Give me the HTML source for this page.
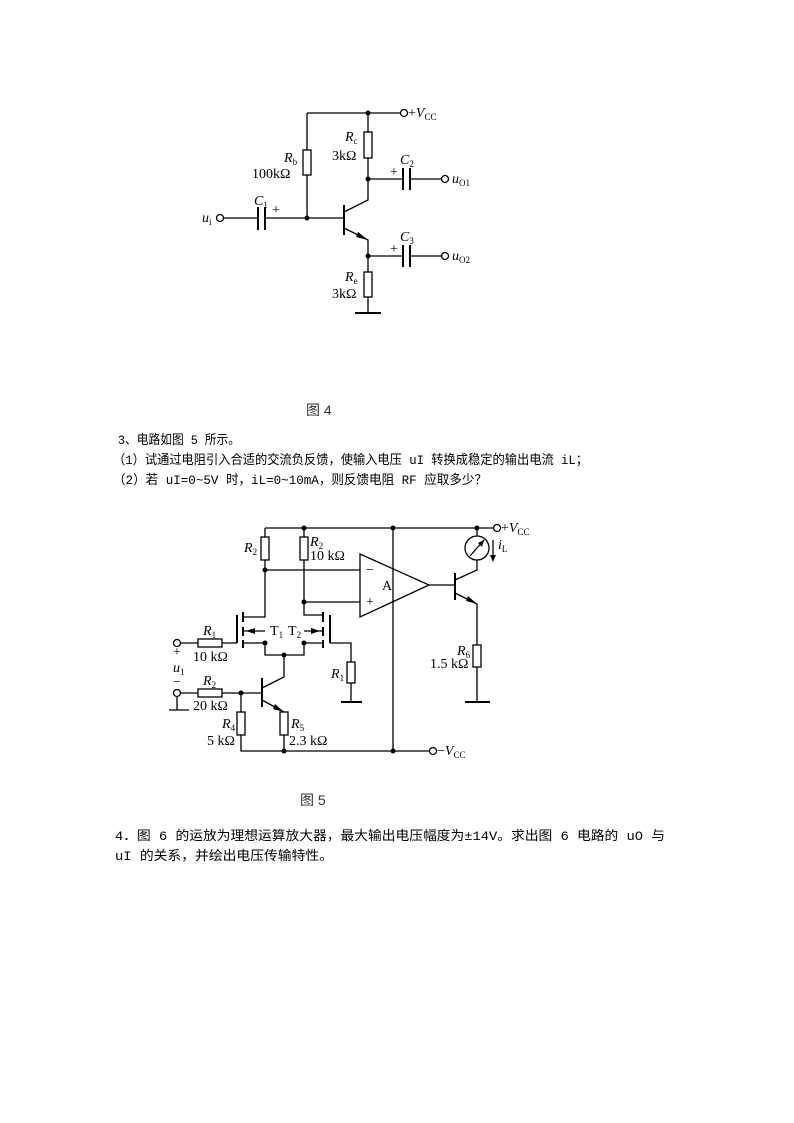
<!DOCTYPE html>
<html><head><meta charset="utf-8"><style>
html,body{margin:0;padding:0;background:#fff}
svg{display:block}
.t{font-family:"Liberation Serif","Noto Serif CJK SC",serif;font-size:14px}
.c{font-family:"Liberation Sans","Noto Sans CJK SC",sans-serif;font-size:14px}
.m{font-family:"Liberation Mono","Noto Sans CJK SC",monospace;font-size:13px}
</style></head><body>
<svg width="794" height="1123" viewBox="0 0 794 1123" xmlns="http://www.w3.org/2000/svg">
<g stroke="#000" stroke-width="1.3" fill="none">
<path d="M307,113 H400"/><circle cx="404" cy="113" r="3.5"/>
<path d="M307,113 V150 M307,175 V218"/><rect x="303" y="150" width="8" height="25"/>
<path d="M368,113 V132 M368,158 V200 L344,212"/><rect x="364" y="132" width="8" height="26"/>
<path d="M224,218 H258 M265,218 H344"/><path d="M258,207 V230 M265,207 V230" stroke-width="2"/>
<circle cx="220" cy="218" r="3.5"/>
<path d="M344,205 V235" stroke-width="2"/>
<path d="M344,228 L368,240 V272 M368,297 V313"/><rect x="364" y="272" width="8" height="25"/>
<path d="M355,313 H381" stroke-width="2"/>
<path d="M368,179 H403 M410,179 H441"/><path d="M403,168 V190 M410,168 V190" stroke-width="2"/><circle cx="445" cy="179" r="3.5"/>
<path d="M368,256 H403 M410,256 H441"/><path d="M403,245 V267 M410,245 V267" stroke-width="2"/><circle cx="445" cy="256" r="3.5"/>
</g>
<g fill="#000">
<circle cx="368" cy="113" r="2.5"/><circle cx="307" cy="218" r="2.5"/><circle cx="368" cy="179" r="2.5"/><circle cx="368" cy="256" r="2.5"/>
<path d="M368,240 L358,232 L356,237 Z"/>
</g>
<g class="t">
<text x="408" y="117">+<tspan font-style="italic">V</tspan><tspan font-size="9" dy="3">CC</tspan></text>
<text x="284" y="162" font-style="italic">R<tspan font-size="9" dy="3" font-style="normal">b</tspan></text>
<text x="252" y="178">100kΩ</text>
<text x="345" y="141" font-style="italic">R<tspan font-size="9" dy="3" font-style="normal">c</tspan></text>
<text x="332" y="160">3kΩ</text>
<text x="345" y="281" font-style="italic">R<tspan font-size="9" dy="3" font-style="normal">e</tspan></text>
<text x="332" y="298">3kΩ</text>
<text x="254" y="205" font-style="italic">C<tspan font-size="9" dy="3" font-style="normal">1</tspan></text><text x="272" y="214">+</text>
<text x="400" y="164" font-style="italic">C<tspan font-size="9" dy="3" font-style="normal">2</tspan></text><text x="390" y="176">+</text>
<text x="400" y="241" font-style="italic">C<tspan font-size="9" dy="3" font-style="normal">3</tspan></text><text x="390" y="253">+</text>
<text x="452" y="183" font-style="italic">u<tspan font-size="9" dy="3" font-style="normal">O1</tspan></text>
<text x="452" y="260" font-style="italic">u<tspan font-size="9" dy="3" font-style="normal">O2</tspan></text>
<text x="202" y="222" font-style="italic">u<tspan font-size="9" dy="3" font-style="normal">i</tspan></text>
</g>
<text class="c" x="306" y="415" fill="#333">图 4</text>
<text class="m" x="118" y="444" textLength="122" lengthAdjust="spacingAndGlyphs">3、电路如图 5 所示。</text>
<text class="m" x="113" y="464" textLength="475" lengthAdjust="spacingAndGlyphs">（1）试通过电阻引入合适的交流负反馈，使输入电压 uI 转换成稳定的输出电流 iL；</text>
<text class="m" x="113" y="484" textLength="374" lengthAdjust="spacingAndGlyphs">（2）若 uI=0~5V 时，iL=0~10mA，则反馈电阻 RF 应取多少？</text>

<g stroke="#000" stroke-width="1.3" fill="none">
<path d="M265,528 H493"/><circle cx="497" cy="528" r="3.5"/>
<path d="M265,528 V537 M265,560 V617 H243"/><rect x="261" y="537" width="8" height="23"/>
<path d="M304,528 V537 M304,560 V615 H323"/><rect x="300" y="537" width="8" height="23"/>
<path d="M265,570 H360 M304,602 H360"/>
<path d="M360,554 L429,585 L360,617 Z"/>
<path d="M393,528 V751"/>
<path d="M237,615 V643" stroke-width="2"/>
<path d="M243,612 V622 M243,627 V636 M243,640 V648" stroke-width="2"/>
<path d="M243,631 H265 M243,643 H265 V655 H304 V643 H323 M304,631 H323"/>
<path d="M323,612 V622 M323,627 V636 M323,640 V648" stroke-width="2"/>
<path d="M330,615 V643" stroke-width="2"/>
<path d="M237,643 H222 M198,643 H181"/><rect x="198" y="639" width="24" height="8"/><circle cx="177" cy="643" r="3.5"/>
<path d="M330,643 H351 V662 M351,683 V702"/><rect x="347" y="662" width="8" height="21"/>
<path d="M341,702 H362" stroke-width="2"/>
<path d="M284,655 V677 L262,688"/>
<path d="M262,678 V707" stroke-width="2"/>
<path d="M181,693 H198 M222,693 H262"/><rect x="198" y="689" width="24" height="8"/><circle cx="177" cy="693" r="3.5"/>
<path d="M177,697 V710 M169,710 H189"/>
<path d="M262,700 L284,712 V712 M284,735 V751"/><rect x="280" y="712" width="8" height="23"/>
<path d="M241,693 V712 M241,735 V751 H429"/><rect x="237" y="712" width="8" height="23"/><circle cx="433" cy="751" r="3.5"/>
<path d="M429,585 H455"/>
<path d="M455,573 V600" stroke-width="2"/>
<path d="M455,580 L477,570 V560 M477,536 V528"/>
<circle cx="477" cy="548" r="12"/><path d="M470,556 L484,540"/>
<path d="M455,593 L477,604 V645 M477,667 V702"/><rect x="473" y="645" width="8" height="22"/>
<path d="M465,702 H490" stroke-width="2"/>
<path d="M493,540 V558"/>
</g>
<g fill="#000">
<circle cx="304" cy="528" r="2.5"/><circle cx="393" cy="528" r="2.5"/><circle cx="477" cy="528" r="2.5"/>
<circle cx="265" cy="570" r="2.5"/><circle cx="304" cy="602" r="2.5"/>
<circle cx="265" cy="643" r="2.5"/><circle cx="304" cy="643" r="2.5"/><circle cx="284" cy="655" r="2.5"/>
<circle cx="241" cy="693" r="2.5"/><circle cx="284" cy="751" r="2.5"/><circle cx="393" cy="751" r="2.5"/>
<path d="M246,631 L255,628 L255,634 Z"/><path d="M320,631 L311,628 L311,634 Z"/>
<path d="M284,712 L275,704 L273,709 Z"/><path d="M477,604 L468,596 L466,601 Z"/>
<path d="M484,540 L478,543 L482,547 Z"/><path d="M493,562 L490,555 L496,555 Z"/>
</g>
<g class="t">
<text x="501" y="532">+<tspan font-style="italic">V</tspan><tspan font-size="9" dy="3">CC</tspan></text>
<text x="437" y="755">−<tspan font-style="italic">V</tspan><tspan font-size="9" dy="3">CC</tspan></text>
<text x="244" y="552" font-style="italic">R<tspan font-size="9" dy="3" font-style="normal">2</tspan></text>
<text x="310" y="546" font-style="italic">R<tspan font-size="9" dy="3" font-style="normal">2</tspan></text>
<text x="310" y="560">10 kΩ</text>
<text x="366" y="574">−</text><text x="366" y="606">+</text>
<text x="382" y="590">A</text>
<text x="270" y="635">T<tspan font-size="9" dy="3">1</tspan></text>
<text x="288" y="635">T<tspan font-size="9" dy="3">2</tspan></text>
<text x="203" y="635" font-style="italic">R<tspan font-size="9" dy="3" font-style="normal">1</tspan></text>
<text x="193" y="661">10 kΩ</text>
<text x="173" y="656">+</text>
<text x="173" y="672" font-style="italic">u<tspan font-size="9" dy="3" font-style="normal">1</tspan></text>
<text x="173" y="686">−</text>
<text x="203" y="685" font-style="italic">R<tspan font-size="9" dy="3" font-style="normal">2</tspan></text>
<text x="193" y="710">20 kΩ</text>
<text x="222" y="728" font-style="italic">R<tspan font-size="9" dy="3" font-style="normal">4</tspan></text>
<text x="207" y="745">5 kΩ</text>
<text x="291" y="728" font-style="italic">R<tspan font-size="9" dy="3" font-style="normal">5</tspan></text>
<text x="289" y="745">2.3 kΩ</text>
<text x="331" y="678" font-style="italic">R<tspan font-size="9" dy="3" font-style="normal">1</tspan></text>
<text x="457" y="655" font-style="italic">R<tspan font-size="9" dy="3" font-style="normal">6</tspan></text>
<text x="430" y="668">1.5 kΩ</text>
<text x="498" y="549" font-style="italic">i<tspan font-size="9" dy="3" font-style="normal">L</tspan></text>
</g>
<text class="c" x="300" y="805" fill="#333">图 5</text>
<text class="m" x="115" y="840" textLength="550" lengthAdjust="spacingAndGlyphs">4．图 6 的运放为理想运算放大器，最大输出电压幅度为±14V。求出图 6 电路的 uO 与</text>
<text class="m" x="115" y="860" textLength="218" lengthAdjust="spacingAndGlyphs">uI 的关系，并绘出电压传输特性。</text>
</svg>
</body></html>
